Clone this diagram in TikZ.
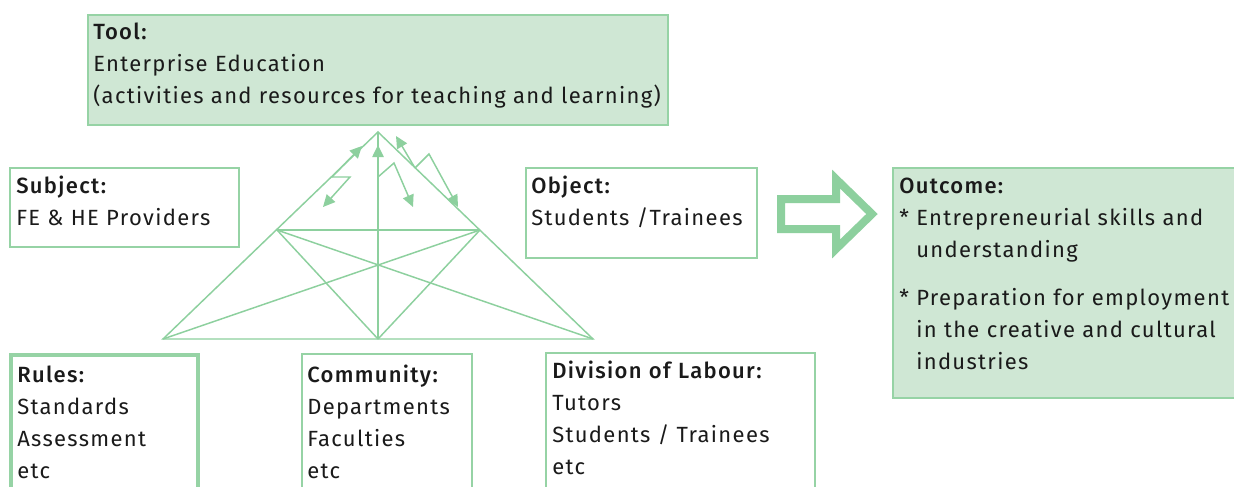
\documentclass[tikz,border=0pt]{standalone}
\usepackage{fontspec}
\setmainfont{Fira Sans}[LetterSpace=6]
\newfontfamily\headfont{Fira Sans Medium}[LetterSpace=6]
\usetikzlibrary{arrows.meta,fit}
\definecolor{gline}{RGB}{141,208,158}
\definecolor{gborder}{RGB}{150,211,165}
\definecolor{gfill}{RGB}{207,231,212}
\definecolor{ink}{RGB}{26,26,26}
\newcommand{\hd}[1]{{\headfont #1}}
\tikzset{
  box/.style={draw=gborder, line width=1.3pt, inner sep=0pt},
  fbox/.style={box, fill=gfill},
  txt/.style={anchor=base west, inner sep=0pt, align=left, text=ink,
    font=\fontsize{16.5}{24}\selectfont, text width=#1},
  tri/.style={draw=gline, line width=1.1pt},
  arr/.style={draw=gline, line width=1.1pt, -{Triangle[length=9pt,width=8.5pt]}},
  bigarrow/.style={draw=gline, line width=6pt, miter limit=10, fill=white}
}
\begin{document}
\begin{tikzpicture}[x=0.75pt,y=-0.75pt]
\clip (0,0) rectangle (1234,486);
\fill[white] (0,0) rectangle (1234,486);
% boxes
\node[fbox, fit={(88,15) (668,125)}] (tool) {};
\node[box, fit={(10,168) (239,247)}] (subject) {};
\node[box, fit={(526,168) (757,258)}] (object) {};
\node[fbox, fit={(893,168) (1240,398)}] (outcome) {};
\node[box, line width=2.4pt, fit={(11,355) (198,495)}] (rules) {};
\node[box, fit={(302,354) (472,495)}] (community) {};
\node[box, fit={(546,353) (815,495)}] (division) {};
% texts
\node[txt=485pt] (tooltxt) at (93,39) {\hd{Tool:}\\Enterprise Education\\(activities and resources for teaching and learning)};
\node[txt=175pt] (subjtxt) at (16,193) {\hd{Subject:}\\FE \& HE Providers};
\node[txt=175pt] (objtxt) at (531,193) {\hd{Object:}\\Students /Trainees};
\node[txt=262pt] (outtxt) at (899,193) {\hd{Outcome:}\\{*} Entrepreneurial skills and\\\phantom{* }understanding\\[12pt]{*} Preparation for employment\\\phantom{* }in the creative and cultural\\\phantom{* }industries};
\node[txt=140pt] (rulestxt) at (17,382) {\hd{Rules:}\\Standards\\Assessment\\etc};
\node[txt=126pt] (commtxt) at (307,382) {\hd{Community:}\\Departments\\Faculties\\etc};
\node[txt=198pt] (divtxt) at (552,378) {\hd{Division of Labour:}\\Tutors\\Students / Trainees\\etc};
% triangle
\coordinate (A) at (378,132);
\coordinate (BL) at (163,339);
\coordinate (BR) at (593,339);
\coordinate (BM) at (378,339);
\coordinate (ML) at (277,230);
\coordinate (MR) at (480,230);
\draw[tri, line join=miter] (A) -- (BL) -- (BR) -- cycle;
\draw[tri] (A) -- (BM);
\draw[tri] (ML) -- (MR);
\draw[tri] (ML) -- (BR);
\draw[tri] (MR) -- (BL);
\draw[tri] (ML) -- (BM);
\draw[tri] (MR) -- (BM);
% contradiction arrows
\coordinate (s1) at (332,177);
\coordinate (t1) at (362,146);
\coordinate (k1) at (350,177);
\coordinate (e1) at (323,207);
\draw[arr] (s1) -- (t1);
\draw[arr] (s1) -- (k1) -- (e1);
\coordinate (s2) at (378,177);
\coordinate (t2) at (378,145);
\coordinate (k2) at (394,163);
\coordinate (e2) at (413,207);
\draw[arr] (s2) -- (t2);
\draw[arr] (s2) -- (k2) -- (e2);
\coordinate (s3) at (415,168);
\coordinate (t3) at (396,136);
\coordinate (k3) at (429,154);
\coordinate (e3) at (458,207);
\draw[arr] (s3) -- (t3);
\draw[arr] (s3) -- (k3) -- (e3);
% big arrow
\draw[bigarrow] (781,199) -- (836,199) -- (836,179) -- (872,214) -- (836,249) -- (836,229) -- (781,229) -- cycle;
\end{tikzpicture}
\end{document}
